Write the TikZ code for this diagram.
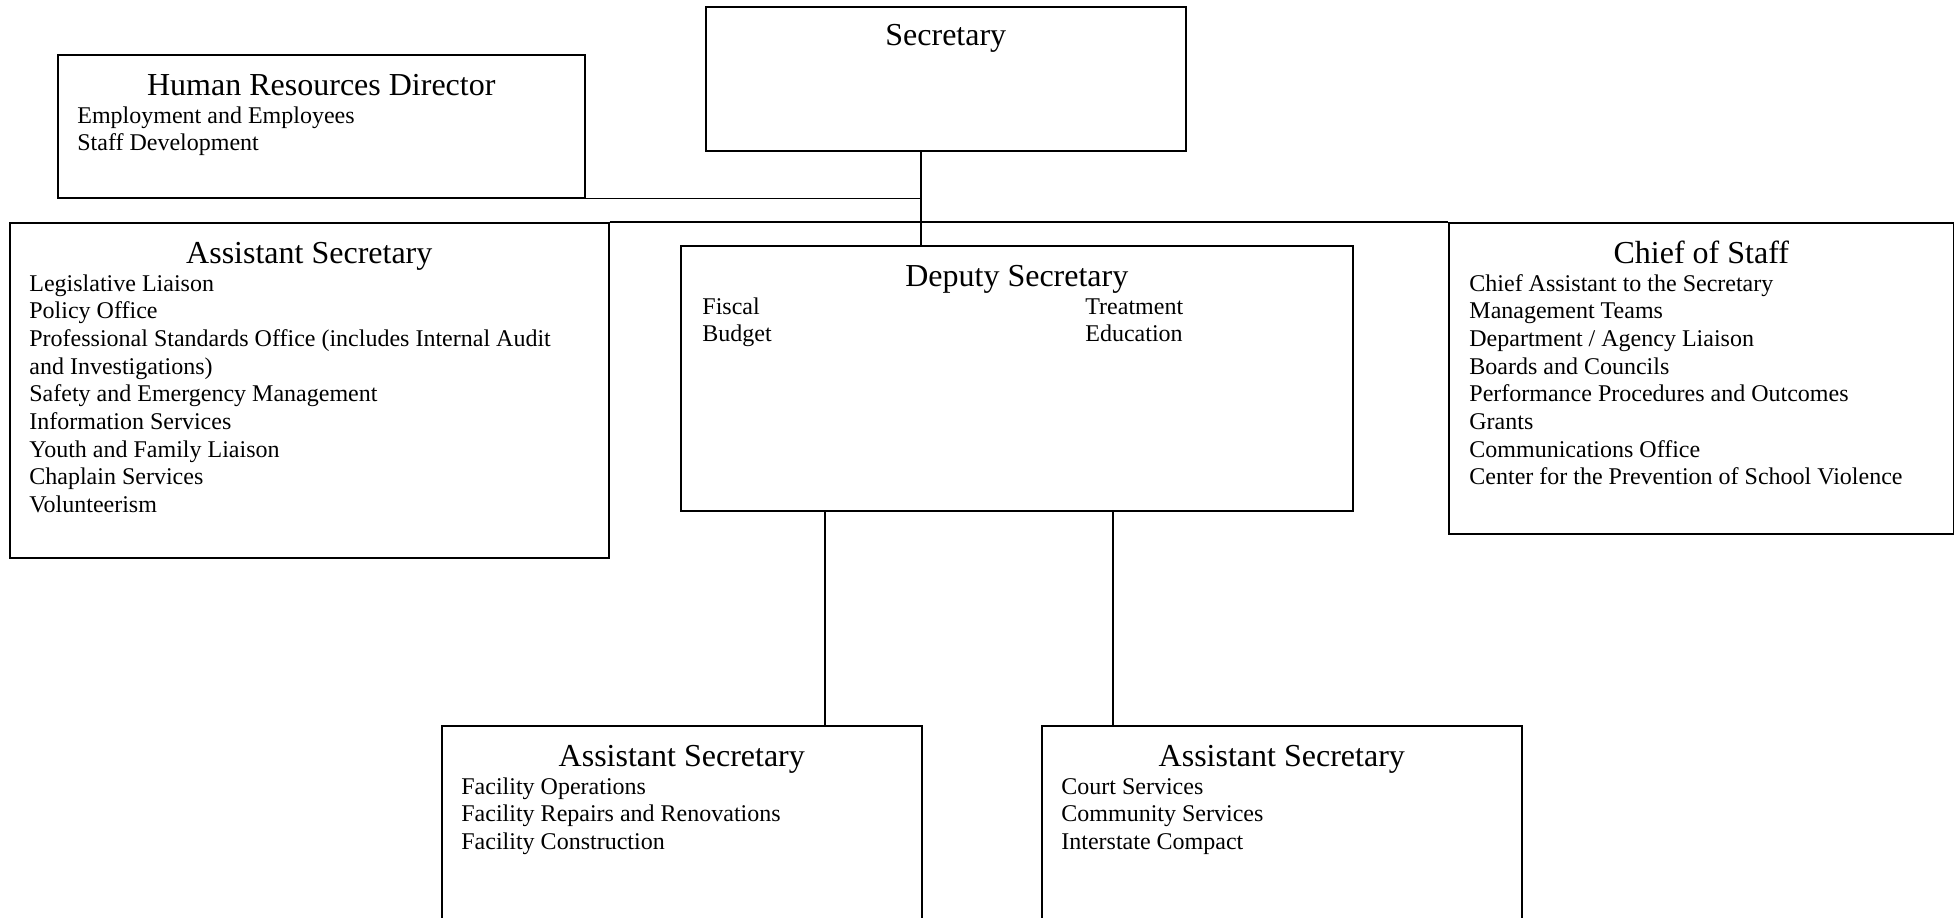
\documentclass[tikz,border=0pt]{standalone}
\usepackage{fontspec}
\setmainfont{Liberation Serif}
\usetikzlibrary{calc}

\tikzset{
  orgbox/.style={draw, line width=0.8pt, anchor=north west, inner sep=0pt},
  title/.style={anchor=base, inner sep=0pt, font=\fontsize{16}{19}\selectfont},
  item/.style={anchor=base west, inner sep=0pt, font=\fontsize{12}{14}\selectfont},
  link/.style={line width=0.8pt},
}

% list of items under a title: box, prefix, x offset, items
\newcommand{\orgitems}[4]{%
  \foreach \t [count=\i] in {#4}
    \node[item] (#2-\i) at ($(#1.north west)+(#3,{69+27.7*(\i-1)})$) {\t};
}

\begin{document}
\begin{tikzpicture}[x=0.5pt, y=-0.5pt]
\useasboundingbox (0,0) rectangle (1954,917);

% boxes: name / left / top / width / height
\foreach \name/\bx/\by/\bw/\bh in {sec/705/6/480/144, hr/57/54/527/143,
    asl/9/222/599/335, dep/680/245/672/265, cos/1448/222/505/311,
    asf/441/725/480/210, ass/1041/725/480/210} {
  \node[orgbox, minimum width=\bw*0.5pt, minimum height=\bh*0.5pt] (\name) at (\bx,\by) {};
}

% titles
\node[title] (sec-t) at ($(sec.north)+(0,39)$) {Secretary};
\foreach \name/\t in {hr/Human Resources Director, asl/Assistant Secretary,
    dep/Deputy Secretary, cos/Chief of Staff, asf/Assistant Secretary,
    ass/Assistant Secretary} {
  \node[title] (\name-t) at ($(\name.north)+(0,41)$) {\t};
}

% items
\orgitems{hr}{hri}{20}{Employment and Employees, Staff Development}
\orgitems{asl}{asli}{20}{Legislative Liaison, Policy Office,
  Professional Standards Office (includes Internal Audit, and Investigations),
  Safety and Emergency Management, Information Services,
  Youth and Family Liaison, Chaplain Services, Volunteerism}
\orgitems{dep}{depa}{22}{Fiscal, Budget}
\orgitems{dep}{depb}{405}{Treatment, Education}
\orgitems{cos}{cosi}{21}{Chief Assistant to the Secretary, Management Teams,
  Department / Agency Liaison, Boards and Councils,
  Performance Procedures and Outcomes, Grants, Communications Office,
  Center for the Prevention of School Violence}
\orgitems{asf}{asfi}{20}{Facility Operations, Facility Repairs and Renovations,
  Facility Construction}
\orgitems{ass}{assi}{20}{Court Services, Community Services, Interstate Compact}

% connectors
\coordinate (jx) at (921,0);
\coordinate (jn) at (hr.south east -| jx);
\draw[link] (sec.south -| jn) -- (jn |- dep.north);
\draw[link] (hr.south east) -- (jn);
\draw[link] (asl.north east) -- (cos.north west);
\coordinate (d1) at ($(dep.south west)+(145,0)$);
\coordinate (d2) at ($(dep.south west)+(433,0)$);
\draw[link] (d1) -- (d1 |- asf.north);
\draw[link] (d2) -- (d2 |- ass.north);

\end{tikzpicture}
\end{document}
